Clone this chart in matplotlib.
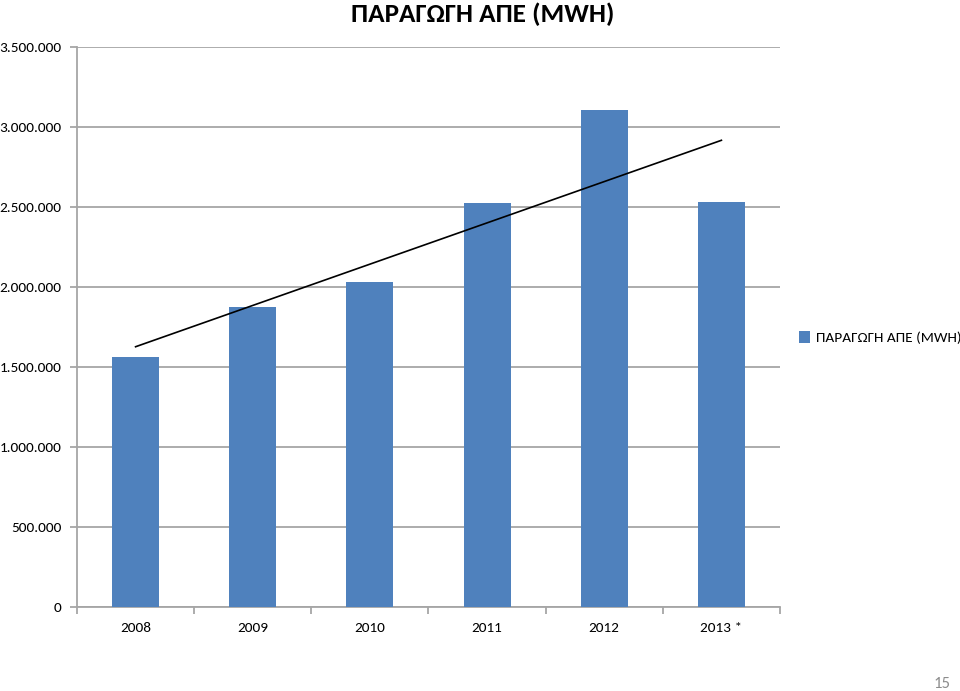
import numpy as np
import matplotlib.pyplot as plt
from matplotlib.ticker import FuncFormatter, MultipleLocator, FixedLocator

# Data
years = ['2008', '2009', '2010', '2011', '2012', '2013 *']
production_mwh = [1562000, 1875000, 2031000, 2525000, 3106000, 2531000]
series_label = 'ΠΑΡΑΓΩΓΗ ΑΠΕ (MWH)'
title = 'ΠΑΡΑΓΩΓΗ ΑΠΕ (MWH)'
page_number = '15'

bar_color = '#4F81BD'
grid_color = '#A6A6A6'
font = ['Carlito', 'Lato', 'DejaVu Sans']

fig = plt.figure(figsize=(9.6, 6.91), dpi=100)
ax = fig.add_axes([0.0802, 0.1216, 0.7323, 0.8104])

x = np.arange(len(years))
ax.bar(x, production_mwh, width=0.4, color=bar_color, zorder=3, label=series_label)

# Linear trendline over the bars
coef = np.polyfit(x, production_mwh, 1)
ax.plot(x, np.polyval(coef, x), color='black', linewidth=1.2, zorder=4)

# Axes styling
ax.set_xlim(-0.5, len(years) - 0.5)
ax.set_ylim(0, 3500000)
ax.yaxis.set_major_locator(MultipleLocator(500000))
ax.yaxis.set_major_formatter(FuncFormatter(lambda v, p: f'{int(v):,}'.replace(',', '.')))
ax.grid(axis='y', color=grid_color, linewidth=1.3, zorder=0)

ax.set_xticks(x)
ax.set_xticklabels(years)
ax.xaxis.set_minor_locator(FixedLocator(np.arange(-0.5, len(years), 1.0)))
ax.tick_params(axis='x', which='major', length=0, pad=11)
ax.tick_params(axis='x', which='minor', length=5, color=grid_color, width=1.3)
ax.tick_params(axis='y', length=5, color=grid_color, width=1.3, pad=6)

for lab in ax.get_xticklabels() + ax.get_yticklabels():
    lab.set_fontfamily(font)
    lab.set_fontsize(11)

for side in ['top', 'right']:
    ax.spines[side].set_visible(False)
for side in ['left', 'bottom']:
    ax.spines[side].set_color(grid_color)
    ax.spines[side].set_linewidth(1.3)

fig.text(0.503, 0.979, title, ha='center', va='center', fontsize=19.5,
         fontfamily=font, fontweight='bold')

fig.legend(loc='center left', bbox_to_anchor=(0.818, 0.511), frameon=False,
           handlelength=0.75, handleheight=0.75, handletextpad=0.35,
           prop={'family': font, 'size': 11})

fig.text(0.99, 0.0101, page_number, ha='right', va='center', fontsize=12,
         color='#8C8C8C', fontfamily=font)

fig.savefig('out.png', dpi=100)
